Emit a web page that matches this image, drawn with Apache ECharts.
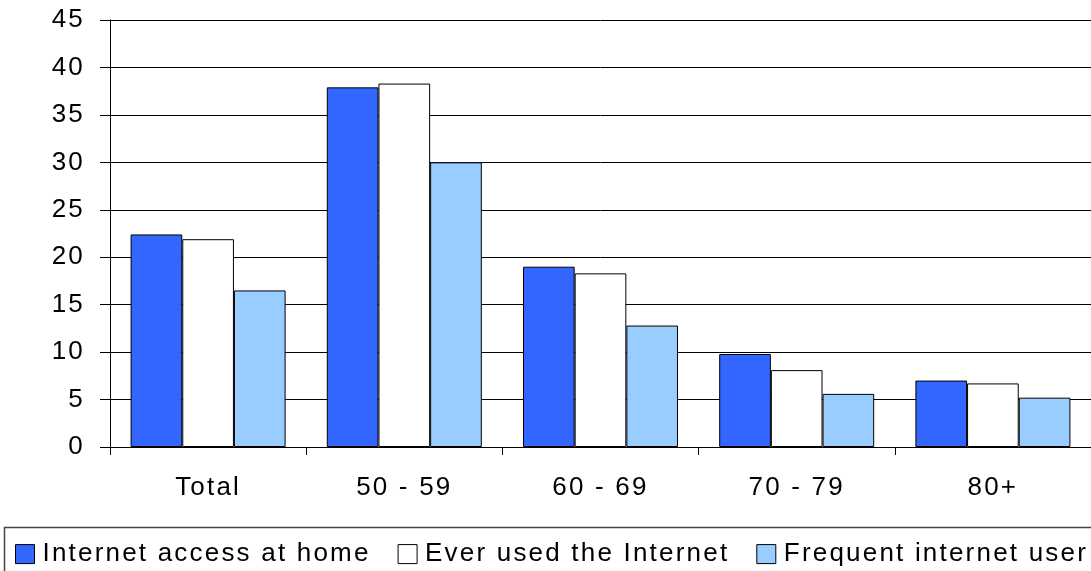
<!DOCTYPE html>
<html>
<head>
<meta charset="utf-8">
<script src="https://cdn.jsdelivr.net/npm/echarts@6/dist/echarts.min.js"></script>
<style>
html,body{margin:0;padding:0;background:#fff;}
#chart{width:1091px;height:571px;}
</style>
</head>
<body>
<div id="chart"></div>
<script>
// Slight letter spacing, as in the reference's text rendering
(function(){
  var desc = Object.getOwnPropertyDescriptor(CanvasRenderingContext2D.prototype, 'font');
  if (desc && desc.set && ('letterSpacing' in CanvasRenderingContext2D.prototype)) {
    Object.defineProperty(CanvasRenderingContext2D.prototype, 'font', {
      configurable: true,
      get: function(){ return desc.get.call(this); },
      set: function(v){ desc.set.call(this, v); this.letterSpacing = '2.2px'; }
    });
  }
})();

var categories = ['Total', '50 - 59', '60 - 69', '70 - 79', '80+'];
var seriesNames = ['Internet access at home', 'Ever used the Internet', 'Frequent internet user'];
var accessAtHome = [22.4, 37.9, 19.0, 9.8, 7.0];
var everUsed = [21.9, 38.3, 18.3, 8.1, 6.7];
var frequentUser = [16.5, 30.0, 12.8, 5.6, 5.2];
var seriesColors = ['#3366FF', '#FFFFFF', '#99CCFF'];

var FONT = '"Liberation Sans", Arial, sans-serif';

var chart = echarts.init(document.getElementById('chart'), null, {renderer: 'canvas'});

function barSeries(name, data, color) {
  return {
    name: name,
    type: 'bar',
    data: data,
    barGap: '0%',
    barCategoryGap: '21%',
    itemStyle: {color: color, borderColor: '#000', borderWidth: 1},
    emphasis: {disabled: true},
    animation: false
  };
}

chart.setOption({
  animation: false,
  backgroundColor: '#fff',
  grid: {left: 110, top: 20, width: 984, bottom: 124, containLabel: false},
  xAxis: {
    type: 'category',
    data: categories,
    axisLine: {lineStyle: {color: '#000', width: 1}},
    axisTick: {show: true, length: 8, lineStyle: {color: '#000'}, alignWithLabel: false},
    axisLabel: {color: '#000', fontSize: 26, fontFamily: FONT, margin: 27},
    splitLine: {show: false}
  },
  yAxis: {
    type: 'value',
    min: 0,
    max: 45,
    interval: 5,
    axisLine: {show: true, lineStyle: {color: '#000', width: 1}},
    axisTick: {show: true, length: 10, lineStyle: {color: '#000'}},
    axisLabel: {color: '#000', fontSize: 26, fontFamily: FONT, margin: 25},
    splitLine: {show: true, lineStyle: {color: '#000', width: 1}}
  },
  legend: {
    left: 15,
    top: 540,
    width: 1300,
    padding: 0,
    itemWidth: 19,
    itemHeight: 19,
    itemGap: 27,
    icon: 'rect',
    selectedMode: false,
    data: seriesNames,
    textStyle: {color: '#000', fontSize: 26, fontFamily: FONT, padding: [0, 0, 0, 3]},
    itemStyle: {borderColor: '#000', borderWidth: 1}
  },
  graphic: [{
    type: 'rect',
    left: 2,
    top: 525,
    shape: {x: 0, y: 0, width: 1100, height: 60},
    style: {fill: 'none', stroke: '#444', lineWidth: 1.5},
    silent: true,
    z: -1
  }],
  series: [
    barSeries(seriesNames[0], accessAtHome, seriesColors[0]),
    barSeries(seriesNames[1], everUsed, seriesColors[1]),
    barSeries(seriesNames[2], frequentUser, seriesColors[2])
  ]
});
</script>
</body>
</html>
